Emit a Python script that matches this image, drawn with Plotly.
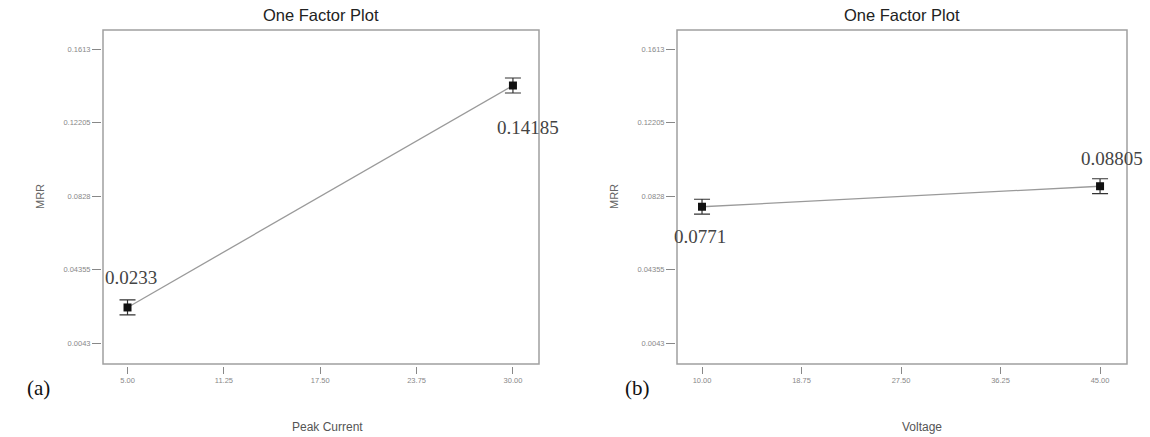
import plotly.graph_objects as go

# ---- data ----
peak_current = [5, 30]
mrr_a = [0.0233, 0.14185]
err_a = [0.004, 0.004]

voltage = [10, 45]
mrr_b = [0.0771, 0.08805]
err_b = [0.004, 0.004]

x_ticks_a = [5, 11.25, 17.5, 23.75, 30]
x_ticktext_a = ["5.00", "11.25", "17.50", "23.75", "30.00"]
x_ticks_b = [10, 18.75, 27.5, 36.25, 45]
x_ticktext_b = ["10.00", "18.75", "27.50", "36.25", "45.00"]
y_ticks = [0.0043, 0.04355, 0.0828, 0.12205, 0.1613]
y_ticktext = ["0.0043", "0.04355", "0.0828", "0.12205", "0.1613"]

W, H = 1150, 437
# plot boxes in pixels
boxA = (103, 539, 30, 364)
boxB = (677, 1127, 30, 364)

def px_x(p):
    return p / W

def px_y(p):
    return 1 - p / H

fig = go.Figure()

for xs, ys, es, xa, ya in [(peak_current, mrr_a, err_a, "x", "y"),
                           (voltage, mrr_b, err_b, "x2", "y2")]:
    fig.add_trace(go.Scatter(
        x=xs, y=ys, xaxis=xa, yaxis=ya, mode="lines+markers",
        line=dict(color="#9a9a9a", width=1.3),
        marker=dict(symbol="square", size=8, color="#111111"),
        error_y=dict(type="data", array=es, visible=True, color="#333333",
                     thickness=1.2, width=8),
        showlegend=False, hoverinfo="skip"))

tickfont = dict(family="Liberation Sans, Arial", size=7.5, color="#888888")

def xaxis_cfg(box, rng, tv, tt):
    return dict(domain=[px_x(box[0]), px_x(box[1])], range=rng,
                anchor="free", position=px_y(box[3] + 2),
                tickvals=tv, ticktext=tt, ticks="outside", ticklen=7,
                tickcolor="#888888", tickwidth=1, tickfont=tickfont,
                showgrid=False, zeroline=False, showline=False)

def yaxis_cfg(box, rng):
    return dict(domain=[px_y(box[3]), px_y(box[2])], range=rng,
                anchor="free", position=px_x(box[0] - 2),
                tickvals=y_ticks, ticktext=y_ticktext, ticks="outside",
                ticklen=9, tickcolor="#888888", tickwidth=1,
                tickfont=tickfont, showgrid=False, zeroline=False,
                showline=False)

yrange = [-0.0069, 0.1715]
fig.update_layout(
    width=W, height=H, margin=dict(l=0, r=0, t=0, b=0),
    paper_bgcolor="white", plot_bgcolor="white",
    xaxis=xaxis_cfg(boxA, [3.41, 31.69], x_ticks_a, x_ticktext_a),
    yaxis=yaxis_cfg(boxA, yrange),
    xaxis2=xaxis_cfg(boxB, [7.80, 47.37], x_ticks_b, x_ticktext_b),
    yaxis2=yaxis_cfg(boxB, yrange),
)

# plot frames
for xr, yr in [("x domain", "y domain"), ("x2 domain", "y2 domain")]:
    fig.add_shape(type="rect", xref=xr, yref=yr, x0=0, x1=1, y0=0, y1=1,
                  line=dict(color="#a0a0a0", width=1.5), layer="below")

ann = []
sans = "Liberation Sans, Arial"
serif = "Liberation Serif, Times New Roman"
for box, xtitle, xt_center, tag, tag_x in [
        (boxA, "Peak Current", 327, "(a)", 38),
        (boxB, "Voltage", 922, "(b)", 637)]:
    cx = (box[0] + box[1]) / 2
    ann.append(dict(text="One Factor Plot", x=px_x(cx), y=px_y(15),
                    xref="paper", yref="paper", showarrow=False,
                    xanchor="center", yanchor="middle",
                    font=dict(family=sans, size=16.5, color="#222222")))
    ann.append(dict(text=xtitle, x=px_x(xt_center), y=px_y(427),
                    xref="paper", yref="paper", showarrow=False,
                    xanchor="center", yanchor="middle",
                    font=dict(family=sans, size=12, color="#555555")))
    ann.append(dict(text="MRR", x=px_x(box[0] - 63), y=px_y(197),
                    xref="paper", yref="paper", showarrow=False,
                    textangle=-90, xanchor="center", yanchor="middle",
                    font=dict(family=sans, size=11, color="#666666")))
    ann.append(dict(text=tag, x=px_x(tag_x), y=px_y(388),
                    xref="paper", yref="paper", showarrow=False,
                    xanchor="center", yanchor="middle",
                    font=dict(family=serif, size=21, color="#111111")))

# value labels
labels = [
    ("x", "y", peak_current[0], mrr_a[0], 3, 30),
    ("x", "y", peak_current[1], mrr_a[1], 15, -42),
    ("x2", "y2", voltage[0], mrr_b[0], -2, -30),
    ("x2", "y2", voltage[1], mrr_b[1], 12, 28),
]
for xr, yr, xv, yv, dx, dy in labels:
    ann.append(dict(text=str(yv), x=xv, y=yv, xref=xr, yref=yr,
                    showarrow=False, xshift=dx, yshift=dy,
                    xanchor="center", yanchor="middle",
                    font=dict(family=serif, size=19, color="#444444")))

fig.update_layout(annotations=ann)

fig.write_html("out.html",
               config={"displayModeBar": False},
               post_script="document.body.style.margin='0';"
                           "document.body.style.overflow='hidden';")
